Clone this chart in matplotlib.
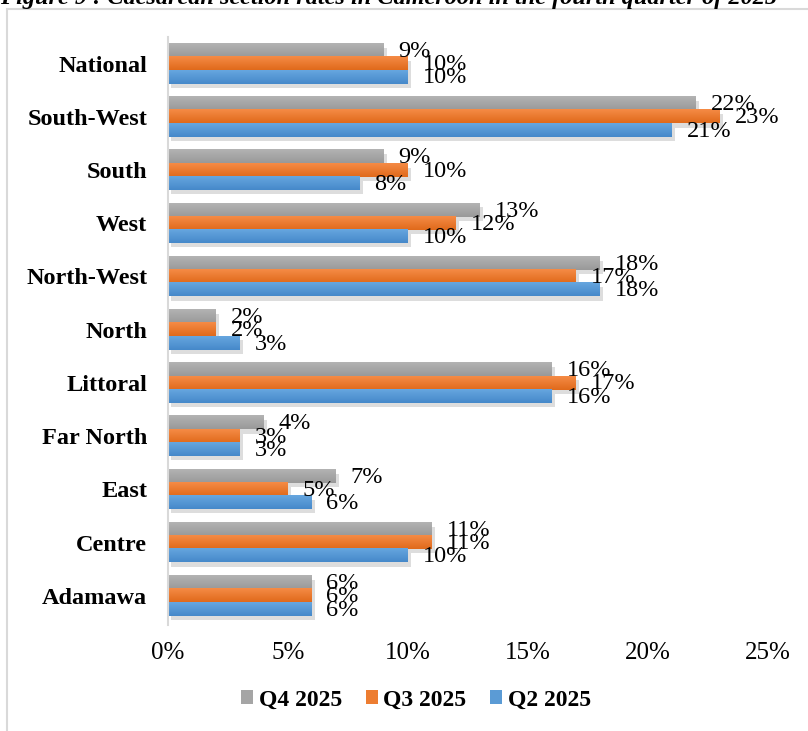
import numpy as np
import matplotlib
matplotlib.use('Agg')
from matplotlib import pyplot as plt
from matplotlib import patheffects as pe
from matplotlib.patches import Rectangle, Patch
from matplotlib.colors import LinearSegmentedColormap
from matplotlib.ticker import FuncFormatter

regions = ['Adamawa', 'Centre', 'East', 'Far North', 'Littoral', 'North',
           'North-West', 'West', 'South', 'South-West', 'National']
q4 = [6, 11, 7, 4, 16, 2, 18, 13, 9, 22, 9]
q3 = [6, 11, 5, 3, 17, 2, 17, 12, 10, 23, 10]
q2 = [6, 10, 6, 3, 16, 3, 18, 10, 8, 21, 10]
series = ['Q4 2025', 'Q3 2025', 'Q2 2025']
colors = ['#a5a5a5', '#ed7d31', '#5b9bd5']
# light (top) -> dark (bottom) shades for the bar gradients
shades = [('#b3b3b3', '#999999'), ('#f58b45', '#e06a1c'), ('#66a6df', '#4689ca')]
title = 'Figure 9 : Caesarean section rates in Cameroon in the fourth quarter of 2025'

plt.rcParams['font.family'] = ['Liberation Serif', 'DejaVu Serif']

fig = plt.figure(figsize=(8.08, 7.31), dpi=100)
ax = fig.add_axes([168 / 808, 1 - 625 / 731, 600 / 808, 588 / 731])

# outer frame of the chart box
fig.patches.append(Rectangle((7 / 808, -0.1), 1.2, 1 - 9 / 731 + 0.1,
                             transform=fig.transFigure, fill=False,
                             edgecolor='#d9d9d9', linewidth=1.5))
fig.text(0.0, 1 - 4 / 731, title, fontsize=17.5, fontweight='bold',
         fontstyle='italic', va='baseline', ha='left')

y = np.arange(len(regions))
h = 0.25
grad = np.linspace(0, 1, 32).reshape(-1, 1)
shadow = [pe.SimplePatchShadow(offset=(2, -3), shadow_rgbFace='#909090', alpha=0.3), pe.Normal()]
for vals, off, c, sh in zip([q4, q3, q2], [h, 0, -h], colors, shades):
    cmap = LinearSegmentedColormap.from_list('g', [sh[0], sh[1]])
    bars = ax.barh(y + off, np.array(vals) / 100, height=h, color=c, zorder=2)
    for b in bars:
        b.set_path_effects(shadow)
        x0, y0 = b.get_x(), b.get_y()
        ax.imshow(grad, extent=(x0, x0 + b.get_width(), y0, y0 + b.get_height()),
                  origin='upper', cmap=cmap, aspect='auto', zorder=2.5, interpolation='bilinear')
    for yy, v in zip(y + off, vals):
        ax.text(v / 100 + 0.006, yy - 0.02, f'{v}%', fontsize=17.5, va='center', ha='left', zorder=3)

ax.set_xlim(0, 0.25)
ax.set_ylim(-0.55, 10.5)
ax.set_xticks(np.arange(0, 0.26, 0.05))
ax.xaxis.set_major_formatter(FuncFormatter(lambda v, p: f'{v * 100:.0f}%'))
ax.set_yticks(y)
ax.set_yticklabels(regions, fontweight='bold', fontsize=17.5)
ax.tick_params(axis='y', length=0, pad=15)
ax.tick_params(axis='x', length=0, pad=12, labelsize=18)
for s in ['top', 'right', 'bottom']:
    ax.spines[s].set_visible(False)
ax.spines['left'].set_color('#d9d9d9')
ax.spines['left'].set_linewidth(1.5)

handles = [Patch(facecolor=c, label=s) for c, s in zip(colors, series)]
fig.legend(handles=handles, loc='center', bbox_to_anchor=(0.515, 1 - 700 / 731), ncol=3,
           frameon=False, prop={'weight': 'bold', 'size': 17},
           handlelength=0.5, handleheight=0.5, handletextpad=0.25, columnspacing=1.0)

fig.savefig('out.png', dpi=100)
